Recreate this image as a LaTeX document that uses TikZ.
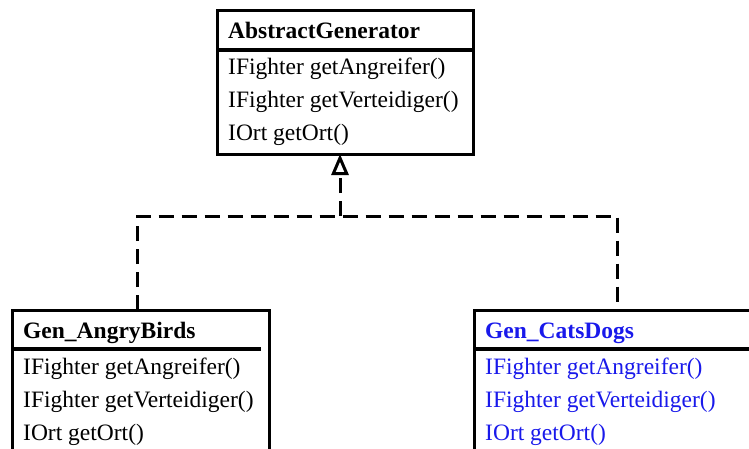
\documentclass[tikz,border=0pt]{standalone}
\usepackage{fontspec}
\setmainfont{Liberation Serif}
\usetikzlibrary{arrows.meta}
\definecolor{genblue}{RGB}{25,25,235}
\tikzset{
  classbox/.style={draw=black, line width=3pt, fill=white, outer sep=0pt, inner sep=0pt, anchor=north west},
  sepline/.style={line width=4pt},
  ctext/.style={anchor=base west, inner sep=0pt, font=\fontsize{23.5}{28}\selectfont},
  ctitle/.style={ctext, font=\fontsize{23.5}{28}\selectfont\bfseries},
  impl/.style={line width=3pt, dash pattern=on 15pt off 8pt},
}
\begin{document}
\begin{tikzpicture}[x=1pt,y=-1pt]
\clip (0,0) rectangle (749,448);
\fill[white] (0,0) rectangle (749,448);
% top box
\node[classbox, minimum width=256pt, minimum height=144pt] (gen) at (217,10) {};
\draw[sepline] (217,50) -- (473,50);
\node[ctitle] (genT) at (228,38) {AbstractGenerator};
\node[ctext] (genA) at (228,74) {IFighter getAngreifer()};
\node[ctext] (genV) at (228,107) {IFighter getVerteidiger()};
\node[ctext] (genO) at (228,140) {IOrt getOrt()};
% left box
\node[classbox, minimum width=257pt, minimum height=160pt] (ab) at (12,310) {};
\draw[sepline] (12,349) -- (261,349);
\node[ctitle] (abT) at (23,338) {Gen\_AngryBirds};
\node[ctext] (abA) at (23,374) {IFighter getAngreifer()};
\node[ctext] (abV) at (23,407) {IFighter getVerteidiger()};
\node[ctext] (abO) at (23,440) {IOrt getOrt()};
% right box
\node[classbox, minimum width=290pt, minimum height=160pt] (cd) at (474,310) {};
\draw[sepline] (474,349) -- (764,349);
\node[ctitle, text=genblue] (cdT) at (485,338) {Gen\_CatsDogs};
\node[ctext, text=genblue] (cdA) at (485,374) {IFighter getAngreifer()};
\node[ctext, text=genblue] (cdV) at (485,407) {IFighter getVerteidiger()};
\node[ctext, text=genblue] (cdO) at (485,440) {IOrt getOrt()};
% connectors
\coordinate (abtop) at (137.5,310);
\coordinate (cdtop) at (617,310);
\coordinate (j) at (340,216);
\draw[impl] (abtop) |- (j) -| (cdtop);
\draw[impl, -{Triangle[open, width=17pt, length=21pt, line width=3pt, sep=0pt]}] (j) -- (gen.south -| j);
\end{tikzpicture}
\end{document}
